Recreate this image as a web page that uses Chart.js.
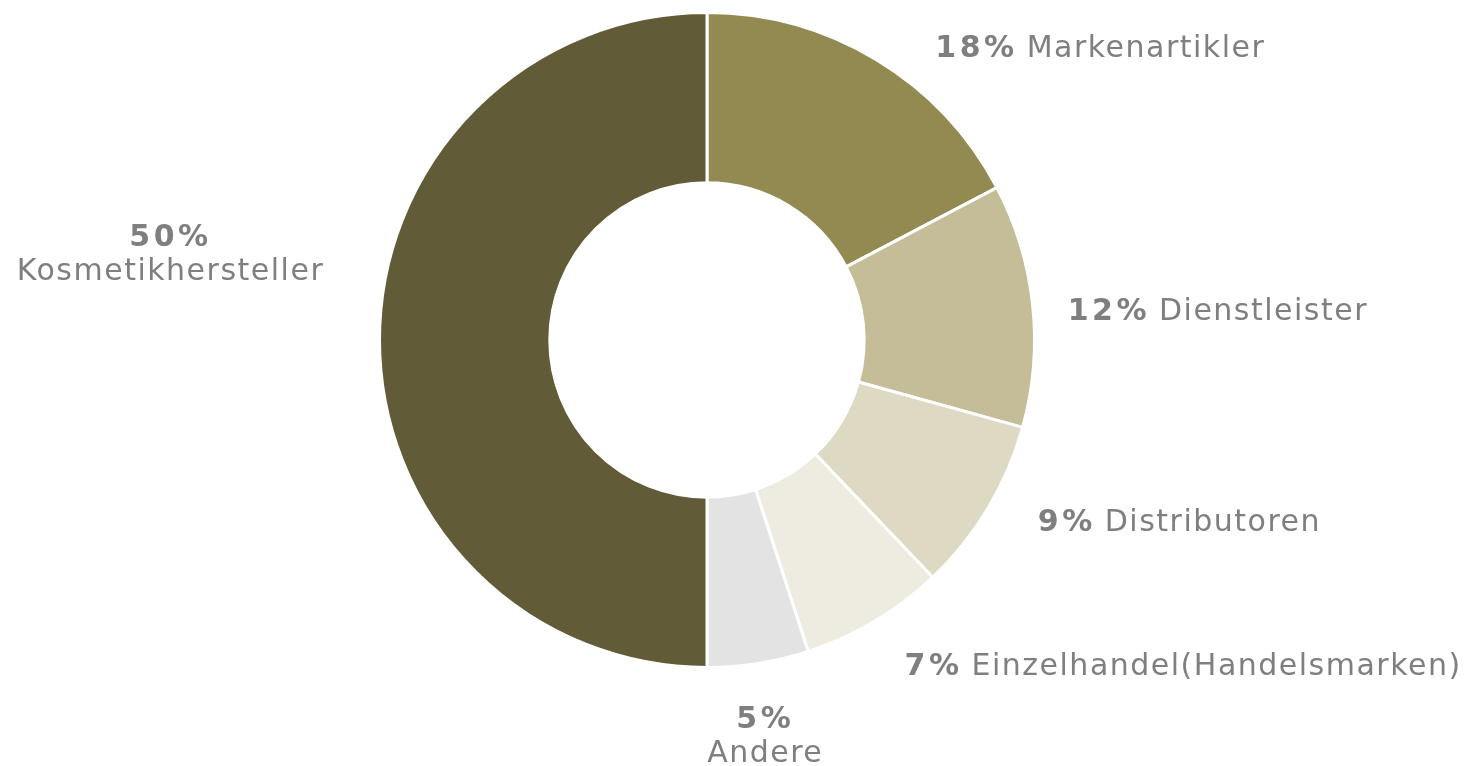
<!DOCTYPE html>
<html>
<head>
<meta charset="utf-8">
<script src="https://cdn.jsdelivr.net/npm/chart.js@4"></script>
<style>
  html, body { margin: 0; padding: 0; background: #ffffff; }
  #wrap { width: 1475px; height: 766px; position: relative; }
</style>
</head>
<body>
<div id="wrap"><canvas id="shareChart"></canvas></div>
<script>
const categories = ['Markenartikler', 'Dienstleister', 'Distributoren', 'Einzelhandel(Handelsmarken)', 'Andere', 'Kosmetikhersteller'];
const shares = [17.3, 12.0, 8.6, 7.1, 5.0, 50.0];
const shareLabels = ['18%', '12%', '9%', '7%', '5%', '50%'];
const SLICE_COLORS = ['#938a52', '#c4bd97', '#ddd9c3', '#eeece1', '#e3e3e3', '#625b38'];

// label placement relative to the outer edge at each slice's mid angle
const LABEL_STYLE = [
    { dx: 59, dy: -10, mode: 'inline' },
    { dx: 35, dy: 7, mode: 'inline' },
    { dx: 50, dy: 15, mode: 'inline' },
    { dx: 30, dy: 46, mode: 'inline' },
    { dx: 7, dy: 57, mode: 'stack' },
    { dx: -209, dy: -102, mode: 'stack' }
];

const FONT = '"DejaVu Sans", Verdana, sans-serif';
const TEXT_COLOR = '#7f7f7f';

const sliceLabels = {
    id: 'sliceLabels',
    afterDatasetsDraw(chart) {
        const ctx = chart.ctx;
        const arcs = chart.getDatasetMeta(0).data;
        ctx.save();
        ctx.fillStyle = TEXT_COLOR;
        ctx.textBaseline = 'middle';
        const bold = 'bold 30px ' + FONT;
        const normal = '30px ' + FONT;
        arcs.forEach((arc, i) => {
            const mid = (arc.startAngle + arc.endAngle) / 2;
            const ax = arc.x + Math.cos(mid) * arc.outerRadius + LABEL_STYLE[i].dx;
            const ay = arc.y + Math.sin(mid) * arc.outerRadius + LABEL_STYLE[i].dy;
            if (LABEL_STYLE[i].mode === 'inline') {
                ctx.textAlign = 'left';
                ctx.font = bold;
                ctx.letterSpacing = '3.5px';
                ctx.fillText(shareLabels[i], ax, ay);
                const w = ctx.measureText(shareLabels[i]).width + 9;
                ctx.font = normal;
                ctx.letterSpacing = '1.5px';
                ctx.fillText(categories[i], ax + w, ay);
            } else {
                ctx.textAlign = 'center';
                ctx.font = bold;
                ctx.letterSpacing = '3.5px';
                ctx.fillText(shareLabels[i], ax, ay);
                ctx.font = normal;
                ctx.letterSpacing = '1.5px';
                ctx.fillText(categories[i], ax, ay + 34);
            }
        });
        ctx.restore();
    }
};

new Chart(document.getElementById('shareChart'), {
    type: 'doughnut',
    data: {
        labels: categories,
        datasets: [{
            data: shares,
            backgroundColor: SLICE_COLORS,
            borderColor: '#ffffff',
            borderWidth: 3
        }]
    },
    options: {
        responsive: true,
        maintainAspectRatio: false,
        animation: false,
        cutout: '48%',
        layout: {
            padding: { top: 11, bottom: 97, left: 378, right: 439 }
        },
        plugins: {
            legend: { display: false },
            tooltip: { enabled: false }
        }
    },
    plugins: [sliceLabels]
});
</script>
</body>
</html>
